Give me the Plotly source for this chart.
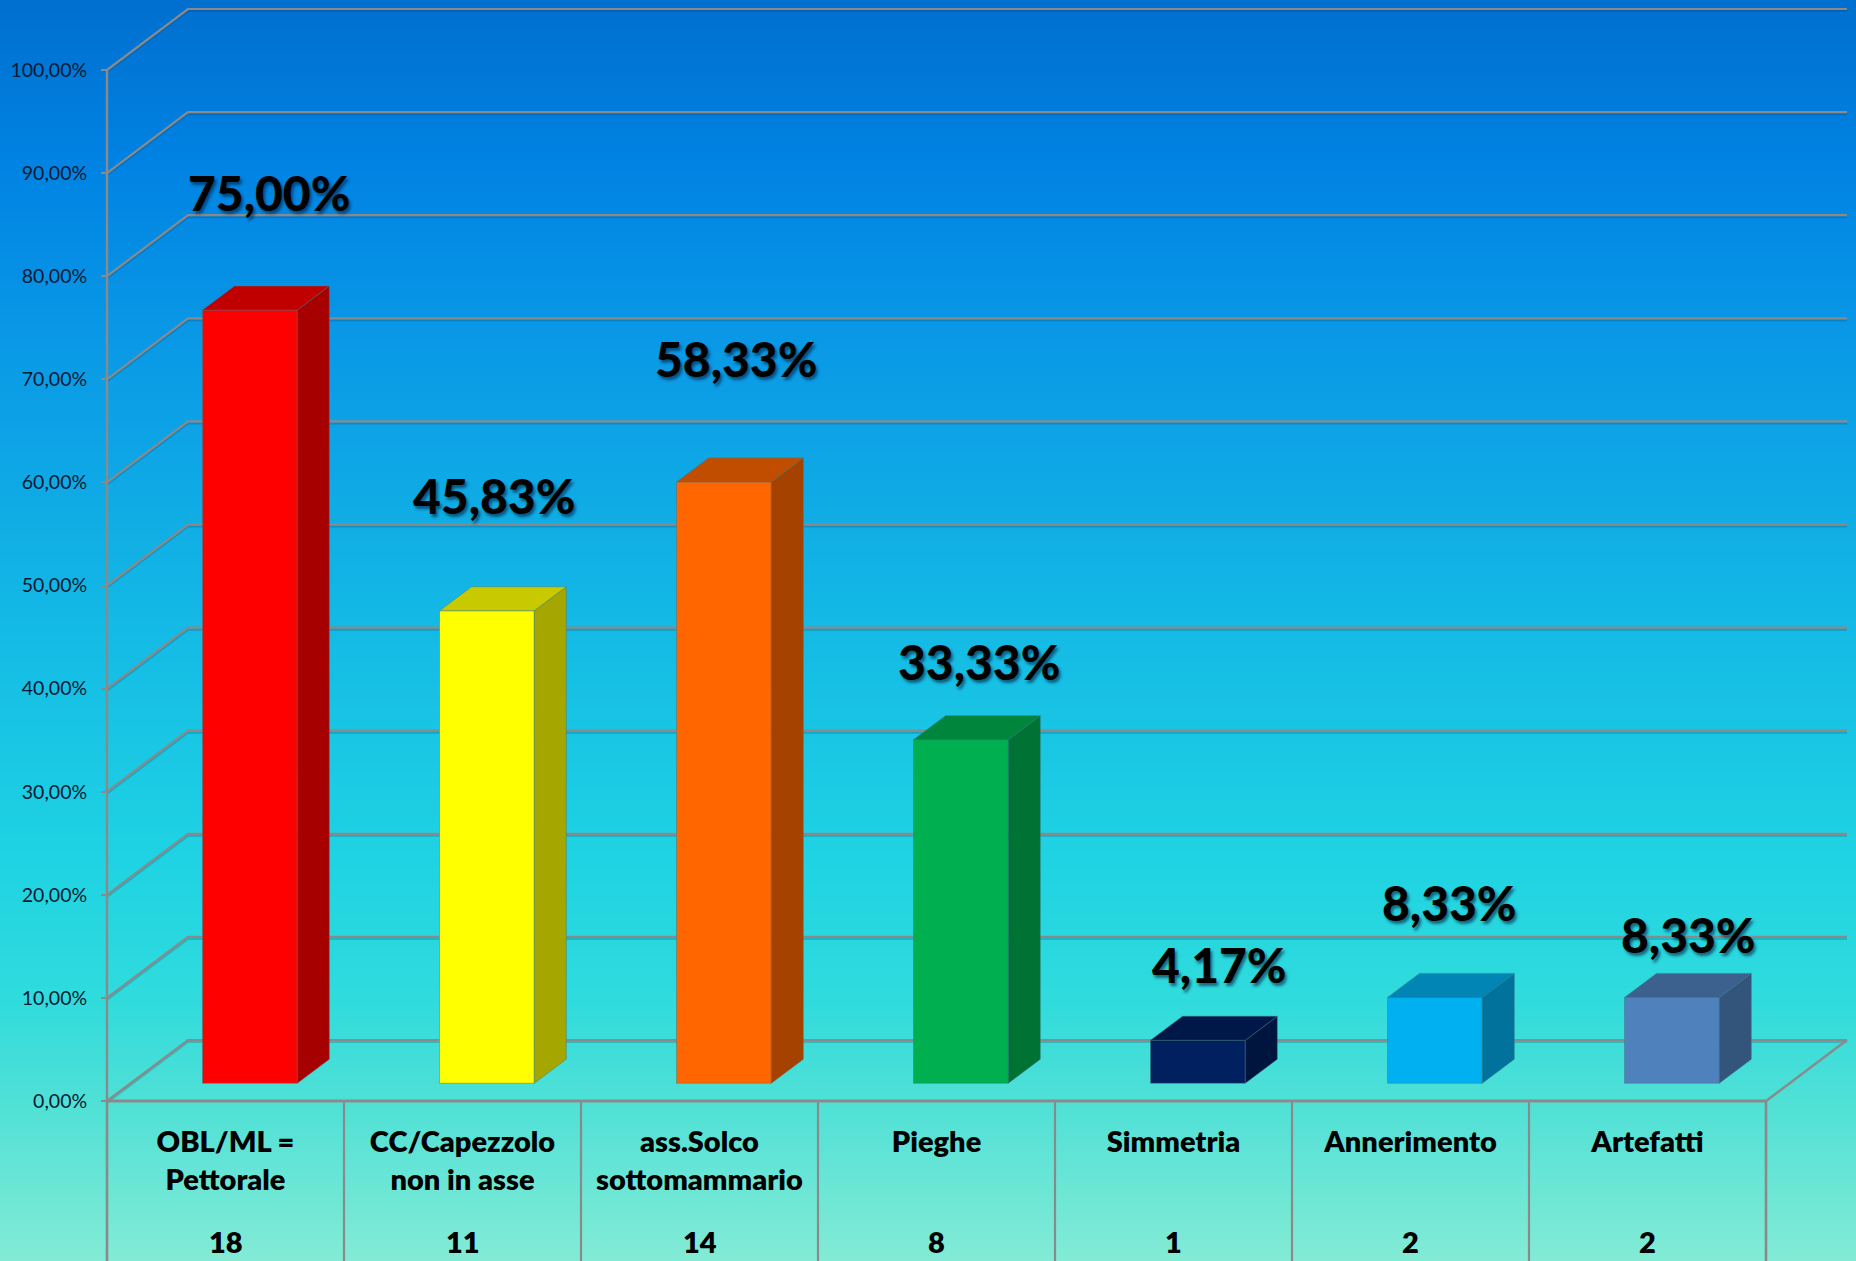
import numpy as np
import plotly.graph_objects as go

# ---- data ----
categories = ["OBL/ML =<br>Pettorale", "CC/Capezzolo<br>non in asse", "ass.Solco<br>sottomammario",
              "Pieghe", "Simmetria", "Annerimento", "Artefatti"]
percent_values = [75.00, 45.83, 58.33, 33.33, 4.17, 8.33, 8.33]
percent_labels = ["75,00%", "45,83%", "58,33%", "33,33%", "4,17%", "8,33%", "8,33%"]
counts = [18, 11, 14, 8, 1, 2, 2]
y_ticks = [0, 10, 20, 30, 40, 50, 60, 70, 80, 90, 100]
y_tick_labels = ["0,00%", "10,00%", "20,00%", "30,00%", "40,00%", "50,00%",
                 "60,00%", "70,00%", "80,00%", "90,00%", "100,00%"]

# ---- styles ----
front_colors = ["#FF0000", "#FFFF00", "#FF6600", "#00B050", "#002060", "#00B0F0", "#4F81BD"]
side_colors = ["#A60000", "#A6A600", "#A64200", "#007233", "#00153E", "#00729C", "#33547B"]
top_colors = ["#C00000", "#C9C900", "#C04D00", "#00853C", "#001848", "#0085B5", "#3C618E"]
label_xshift = [19, 7, 12, 18, 22, 15, 17]
label_yshift = [118, 115, 123, 78, 76, 95, 63]

W, H = 1856, 1261
PX_X0, PX_SLOT = 107.0, 237.0      # pixel of first slot edge, slot width
PX_Y0, PX_UNIT = 1101.0, 10.31     # pixel of 0 %, pixels per 1 %
x_range = [-PX_X0 / PX_SLOT, (W - PX_X0) / PX_SLOT]
y_range = [(PX_Y0 - H) / PX_UNIT, PX_Y0 / PX_UNIT]
WALL_DX, WALL_DY = 81 / PX_SLOT, 61 / PX_UNIT
BAR_DX, BAR_DY = 32 / PX_SLOT, 24 / PX_UNIT
BAR_W, BAR_BASE, BAR_OFF = 0.40, 1.72, 0.603
GRID = "#8A8A8A"
n = len(categories)

fig = go.Figure()

# background gradient
grad_stops = [(0.0, "#83EBD5"), (0.127, "#4FE0D6"), (0.21, "#2FDBDD"), (0.32, "#1FD3E3"),
              (0.50, "#14BAE5"), (0.72, "#0A9AE6"), (0.87, "#0083E3"), (1.0, "#006FCF")]
ys = np.linspace(y_range[0], y_range[1], 400)
fig.add_trace(go.Heatmap(x=x_range, y=ys, z=[[v, v] for v in ys], zsmooth="best",
                         colorscale=[list(s) for s in grad_stops], showscale=False, hoverinfo="skip"))


def line(xs, ys, width=2.2, color=GRID):
    fig.add_trace(go.Scatter(x=xs, y=ys, mode="lines", line=dict(color=color, width=width),
                             hoverinfo="skip", showlegend=False))


# walls
shadow = "rgba(0,60,90,0.22)"
for v in y_ticks:
    lx = [0, WALL_DX, n + WALL_DX]
    ly = [v, v + WALL_DY, v + WALL_DY]
    line(lx, [a - 0.2 for a in ly], 2, shadow)
    line(lx, ly)
line([n, n + WALL_DX], [0, WALL_DY], 2.4)
line([0, n], [0, 0], 3)
line([0, 0], [0, 100], 2.4)
for i in range(n + 1):
    line([i, i], [y_range[0], 0], 2.2 if 0 < i < n else 2.6)

# bars, on an overlaying pair of axes so they stay above the walls
centers = [i + BAR_OFF for i in range(n)]
fig.add_trace(go.Bar(x=centers, y=percent_values, base=[BAR_BASE] * n, width=[BAR_W] * n,
                     marker=dict(color=front_colors, line=dict(color="rgba(60,120,130,0.45)", width=1)),
                     xaxis="x2", yaxis="y2", hoverinfo="skip", showlegend=False))
for c, v, sc, tc in zip(centers, percent_values, side_colors, top_colors):
    l, r = c - BAR_W / 2, c + BAR_W / 2
    b, t = BAR_BASE, BAR_BASE + v
    fig.add_trace(go.Scatter(x=[r, r + BAR_DX, r + BAR_DX, r, r], y=[b, b + BAR_DY, t + BAR_DY, t, b],
                             fill="toself", fillcolor=sc, mode="lines",
                             line=dict(color="rgba(60,120,130,0.45)", width=1),
                             xaxis="x2", yaxis="y2", hoverinfo="skip", showlegend=False))
    fig.add_trace(go.Scatter(x=[l, r, r + BAR_DX, l + BAR_DX, l], y=[t, t, t + BAR_DY, t + BAR_DY, t],
                             fill="toself", fillcolor=tc, mode="lines",
                             line=dict(color="rgba(60,120,130,0.45)", width=1),
                             xaxis="x2", yaxis="y2", hoverinfo="skip", showlegend=False))

annotations = []
for c, v, txt, dx, dy in zip(centers, percent_values, percent_labels, label_xshift, label_yshift):
    annotations.append(dict(x=c, y=v + BAR_BASE, xref="x", yref="y", text=txt, showarrow=False,
                            xshift=dx, yshift=dy, xanchor="center", yanchor="middle",
                            font=dict(family="Lato", size=48, color="#000000", weight=900,
                                      shadow="2px 3px 3px rgba(0,30,60,0.6)")))
for i, cnt in enumerate(counts):
    annotations.append(dict(x=i + 0.5, y=(PX_Y0 - 1241) / PX_UNIT, xref="x", yref="y", text=f"{cnt}",
                            showarrow=False, xanchor="center", yanchor="middle",
                            font=dict(family="Lato", size=29, color="#000000", weight=800)))

fig.update_layout(
    width=W, height=H, margin=dict(l=0, r=0, t=0, b=0), autosize=False,
    paper_bgcolor="#4FE0D6", plot_bgcolor="rgba(0,0,0,0)", showlegend=False, barmode="overlay",
    annotations=annotations,
    xaxis=dict(range=x_range, anchor="free", position=(H - PX_Y0) / H, tickmode="array",
               tickvals=[i + 0.5 for i in range(n)], ticktext=categories,
               ticks="", showgrid=False, zeroline=False, showline=False, ticklabelstandoff=21, tickangle=0,
               tickfont=dict(family="Lato", size=29, color="#000000", weight=800)),
    yaxis=dict(range=y_range, anchor="free", position=PX_X0 / W, tickmode="array", tickvals=y_ticks,
               ticktext=y_tick_labels, ticks="outside", ticklen=6, tickcolor=GRID, tickwidth=2,
               showgrid=False, zeroline=False, showline=False, ticklabelstandoff=10,
               tickfont=dict(family="Lato", size=19.5, color="#031a33")),
    xaxis2=dict(range=x_range, overlaying="x", visible=False, anchor="y2"),
    yaxis2=dict(range=y_range, overlaying="y", visible=False, anchor="x2"),
)
fig.write_html("out.html", config={"displayModeBar": False, "responsive": False},
               post_script="document.body.style.margin='0';document.documentElement.style.overflow='hidden';")
